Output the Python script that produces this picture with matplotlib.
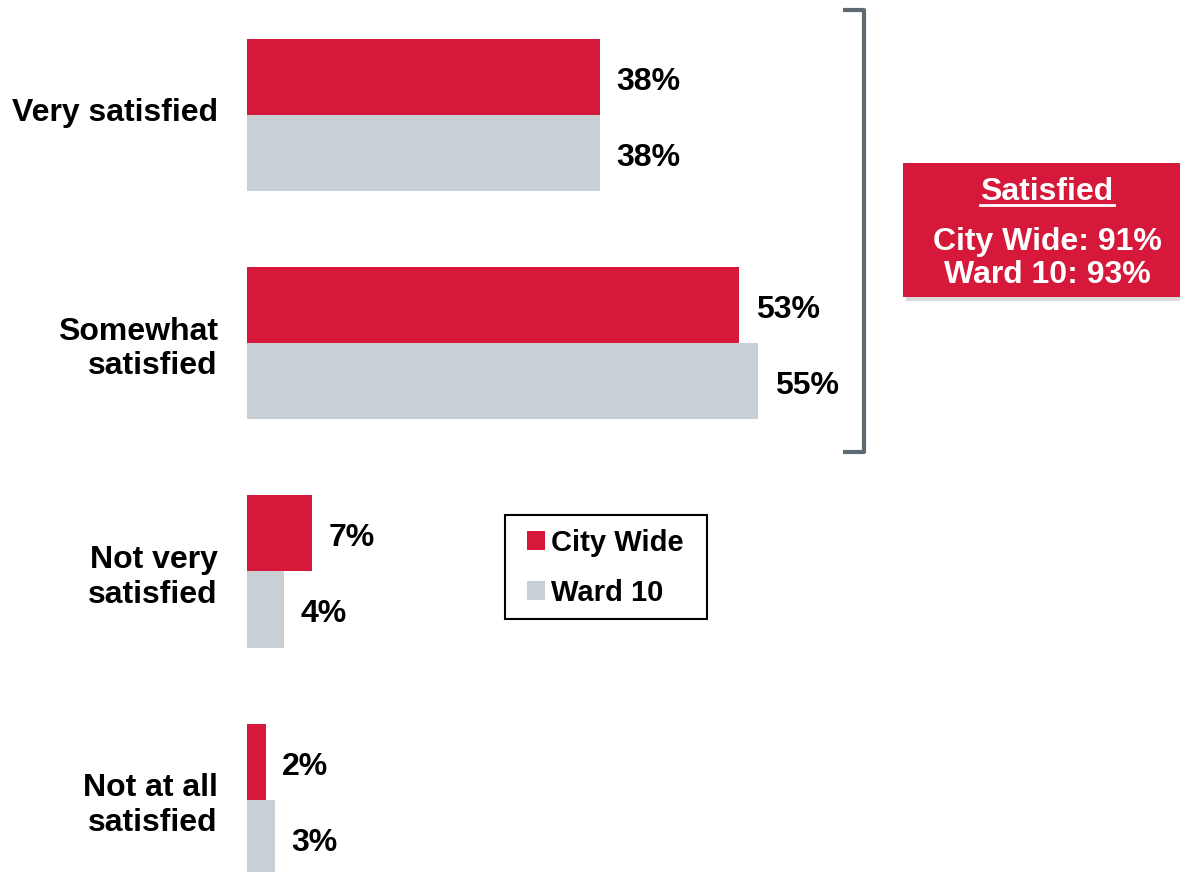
import matplotlib
matplotlib.use("Agg")
import matplotlib.pyplot as plt
import matplotlib.patheffects as pe
from matplotlib.patches import Rectangle
from matplotlib.lines import Line2D
from matplotlib.transforms import ScaledTranslation

plt.rcParams['font.family'] = ['Liberation Sans', 'DejaVu Sans']

# Survey data
categories = ["Very satisfied", "Somewhat\nsatisfied", "Not very\nsatisfied", "Not at all\nsatisfied"]
series_names = ["City Wide", "Ward 10"]
city_wide = [38, 53, 7, 2]
ward_10 = [38, 55, 4, 3]
satisfied_total = {"City Wide": 91, "Ward 10": 93}

RED = "#D6183A"
GREY = "#C8CFD5"

W, H = 1180, 872
fig = plt.figure(figsize=(W / 100, H / 100), dpi=100)
ax = fig.add_axes([247 / W, 0, 929 / W, 1])

centers = [3 * i for i in range(len(categories))]
y_red = [c - 0.5 for c in centers]
y_grey = [c + 0.5 for c in centers]

bars_red = ax.barh(y_red, city_wide, height=1.0, color=RED, linewidth=0, label=series_names[0])
bars_grey = ax.barh(y_grey, ward_10, height=1.0, color=GREY, linewidth=0, label=series_names[1])

ax.set_xlim(0, 100)
ax.set_ylim(9.95, -1.51)

for bars, vals in ((bars_red, city_wide), (bars_grey, ward_10)):
    for b, v in zip(bars, vals):
        ax.annotate(f"{v}%", xy=(v, b.get_y() + b.get_height() / 2),
                    xytext=(12, -3.5), textcoords="offset points",
                    ha="left", va="center", fontsize=23, fontweight="bold", color="black")

ax.set_yticks(centers)
ax.set_yticklabels(categories, fontsize=23, fontweight="bold", linespacing=1.2)
ax.tick_params(axis="y", length=0, pad=21)
ax.set_xticks([])
for s in ax.spines.values():
    s.set_visible(False)
# single-line label sits a little higher
first = ax.get_yticklabels()[0]
first.set_transform(first.get_transform() + ScaledTranslation(0, 4 / 72, fig.dpi_scale_trans))


def fx(px):
    return px / W


def fy(py):
    return 1 - py / H


# Legend with a plain rectangular frame
leg = ax.legend(handles=[bars_red, bars_grey], labels=series_names,
                loc="upper left", bbox_to_anchor=(fx(527), fy(529)),
                bbox_transform=fig.transFigure, borderaxespad=0, borderpad=0,
                prop={"size": 21, "weight": "bold"}, frameon=False,
                handlelength=0.62, handleheight=0.62,
                handletextpad=0.2, labelspacing=0.76)
fig.add_artist(Rectangle((fx(505), fy(619)), fx(707) - fx(505), fy(515) - fy(619),
                         transform=fig.transFigure, facecolor="none",
                         edgecolor="black", linewidth=1.5))

# Bracket grouping the two "satisfied" rows
bracket_color = "#5F6B73"
fig.add_artist(Line2D([fx(843), fx(864), fx(864), fx(843)],
                      [fy(10), fy(10), fy(452), fy(452)],
                      color=bracket_color, linewidth=3, solid_joinstyle="round",
                      solid_capstyle="butt"))

# Summary box
box = Rectangle((fx(903), fy(297)), fx(1200) - fx(903), fy(163) - fy(297),
                transform=fig.transFigure, facecolor=RED, edgecolor="none",
                path_effects=[pe.withSimplePatchShadow(offset=(2, -3), shadow_rgbFace="#999999", alpha=0.35),
                              pe.Normal()])
fig.add_artist(box)

cx = fx(1047)
title = fig.text(cx, fy(192), "Satisfied", ha="center", va="center",
                 fontsize=23, fontweight="bold", color="white")
fig.text(cx, fy(242), f"City Wide: {satisfied_total['City Wide']}%", ha="center", va="center",
         fontsize=23, fontweight="bold", color="white")
fig.text(cx, fy(275), f"Ward 10: {satisfied_total['Ward 10']}%", ha="center", va="center",
         fontsize=23, fontweight="bold", color="white")

renderer = fig.canvas.get_renderer()
bb = title.get_window_extent(renderer=renderer)
fig.add_artist(Line2D([bb.x0 / W, bb.x1 / W], [fy(205), fy(205)],
                      color="white", linewidth=2))

fig.savefig("out.png", dpi=100)
